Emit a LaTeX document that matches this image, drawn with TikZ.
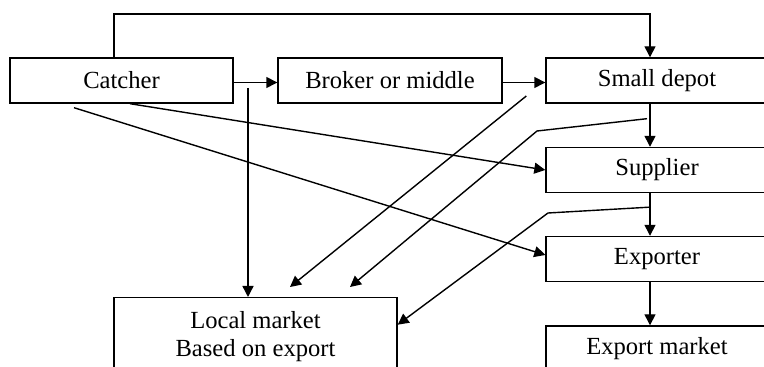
\documentclass[tikz,border=0pt]{standalone}
\usepackage{fontspec}
\setmainfont{Liberation Serif}
\usetikzlibrary{arrows.meta}

\begin{document}
\begin{tikzpicture}[x=0.5pt,y=-0.5pt,
		box/.style={draw, line width=0.7pt, minimum height=22.5pt, inner sep=0pt, align=center, font=\fontsize{12.3}{14}\selectfont},
		arr/.style={-{Triangle[length=5.5pt,width=5.5pt]}, line width=0.7pt}]
		\def\sidewidth{111pt}
		
		\useasboundingbox (0,0) rectangle (764,367);
		\clip (0,0) rectangle (764,367);
		
		\coordinate (colA) at (114,0);
		\coordinate (colB) at (650,0);
		\coordinate (tap) at (248,88);
		\coordinate (bendA) at (537,131);
		\coordinate (bendB) at (548,213);
		
		\node[box, minimum width=111.5pt] (catcher) at (121.5,80.5) {Catcher};
		\node[box, minimum width=112pt] (broker) at (390,80.5) {Broker or middle};
		\node[box, minimum width=\sidewidth] (depot) at (657,80.5) {Small depot};
		\node[box, minimum width=\sidewidth] (supplier) at (657,170) {Supplier};
		\node[box, minimum width=\sidewidth] (exporter) at (657,259) {Exporter};
		\node[box, minimum width=\sidewidth] (export) at (657,348.5) {Export market};
		\node[box, minimum width=141.5pt, minimum height=39pt, anchor=north] (local) at (255.5,297) {Local market\\Based on export};
		
		\draw[arr] (catcher.north -| colA) |- (colB |- 0,14) -- (depot.north -| colB);
		\draw[arr] ([yshift=-1pt]catcher.east) -- ([yshift=-1pt]broker.west);
		\draw[arr] ([yshift=-1pt]broker.east) -- ([yshift=-1pt]depot.west);
		\draw[arr] (tap) -- (tap |- local.north);
		
		\draw[arr] ([xshift=4.25pt]catcher.south) -- (supplier.west);
		\draw[arr] ([shift={(-23.75pt,-2pt)}]catcher.south) -- ([yshift=2pt]exporter.west);
		
		\draw[arr] ([shift={(-9.5pt,-7.75pt)}]depot.west) -- ([shift={(17.25pt,5pt)}]local.north);
		\draw[arr] ([shift={(-5pt,-7.5pt)}]depot.south) -- (bendA) -- ([shift={(47.25pt,5pt)}]local.north);
		\draw[arr] ([shift={(-4pt,-7pt)}]supplier.south) -- (bendB) -- ([yshift=6pt]local.east);
		
		\draw[arr] (depot.south -| colB) -- (supplier.north -| colB);
		\draw[arr] (supplier.south -| colB) -- (exporter.north -| colB);
		\draw[arr] (exporter.south -| colB) -- (export.north -| colB);
	\end{tikzpicture}
\end{document}
